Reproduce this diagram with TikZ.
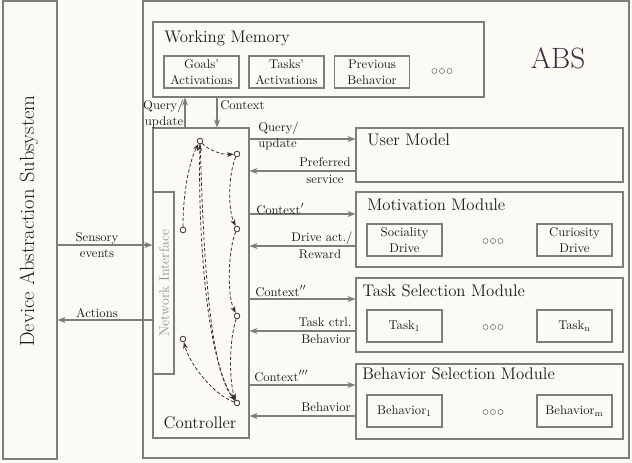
\documentclass[tikz,border=0pt]{standalone}
\usetikzlibrary{arrows.meta}
\definecolor{bgc}{RGB}{251,250,245}
\definecolor{boxc}{RGB}{125,125,125}
\definecolor{txtc}{RGB}{30,28,28}
\definecolor{absc}{RGB}{62,45,62}
\definecolor{dashc}{RGB}{58,50,50}
\definecolor{nic}{RGB}{150,150,150}
\newcommand\ffsm{\fontsize{9.5}{12}\selectfont}
\newcommand\ffbig{\fontsize{12.6}{14}\selectfont}
\newcommand\ffdas{\fontsize{15.4}{17}\selectfont}
\newcommand\ffabs{\fontsize{22}{24}\selectfont}
\newcommand\ffni{\fontsize{10.3}{12}\selectfont}
\begin{document}
\begin{tikzpicture}[x=0.75pt,y=-0.75pt,
  box/.style={draw=boxc, line width=0.8pt, inner sep=0pt, rectangle},
  sbox/.style={box, minimum width=56.25pt, minimum height=24pt, align=center, font=\ffsm, text=txtc},
  lbl/.style={inner sep=0pt, font=\ffsm, text=txtc},
  ttl/.style={inner sep=0pt, anchor=west, font=\ffbig, text=txtc},
  garrow/.style={draw=boxc, line width=0.8pt, -{Stealth[length=6pt,width=4.5pt,inset=1.8pt]}},
  darrow/.style={draw=dashc, line width=0.6pt, dash pattern=on 2.5pt off 1.6pt, -{Stealth[length=5pt,width=3.6pt,inset=1.5pt]}},
  circ/.style={circle, draw=dashc, fill=white, line width=0.6pt, inner sep=0pt, minimum size=4.2pt},
  dotc/.style={draw=boxc, line width=0.5pt}
]
\fill[bgc] (0,0) rectangle (632,463);
\useasboundingbox (0,0) rectangle (632,463);

% Device abstraction subsystem
\node[box, minimum width=40.5pt, minimum height=343.5pt] (das) at (30,230) {};
\node[rotate=90, font=\ffdas, text=txtc, inner sep=0pt] (dast) at (29,221) {Device Abstraction Subsystem};

% ABS
\node[box, minimum width=364.5pt, minimum height=342.75pt] (abs) at (386,229.5) {};
\node[font=\ffabs, text=absc, inner sep=0pt] (abst) at (558,58) {ABS};

% Working memory
\node[box, minimum width=248.25pt, minimum height=56.25pt] (wm) at (318.5,59.5) {};
\node[ttl] (wmt) at (164,38) {Working Memory};
\node[sbox] (goals) at (201.5,72) {Goals'\\Activations};
\node[sbox] (tasksa) at (286.5,72) {Tasks'\\Activations};
\node[sbox] (prev) at (372,72) {Previous\\Behavior};
\foreach \dx in {-7.5,0,7.5} \draw[dotc] (442+\dx,71) circle[radius=1.9pt];

% Controller
\node[box, minimum width=72pt, minimum height=232.5pt] (ctrl) at (201,283) {};
\node[box, minimum width=15.75pt, minimum height=136.5pt] (ni) at (163.5,283) {};
\node[rotate=90, font=\ffni, text=nic, inner sep=0pt] (nit) at (164,283) {Network Interface};
\node[font=\ffbig, text=txtc, inner sep=0pt] (ctrlt) at (200,423) {Controller};

% Modules
\node[box, minimum width=200.25pt, minimum height=40.5pt] (um) at (489.5,155) {};
\node[ttl] (umt) at (367,140) {User Model};

\node[box, minimum width=200.25pt, minimum height=56.25pt] (mm) at (489.5,229.5) {};
\node[ttl] (mmt) at (367,205) {Motivation Module};
\node[sbox] (soc) at (404.5,240) {Sociality\\Drive};
\node[sbox] (cur) at (574.5,240) {Curiosity\\Drive};
\foreach \dx in {-7.5,0,7.5} \draw[dotc] (493+\dx,241) circle[radius=1.9pt];

\node[box, minimum width=200.25pt, minimum height=55.5pt] (tsm) at (489.5,315) {};
\node[ttl] (tsmt) at (362,291) {Task Selection Module};
\node[sbox] (t1) at (404.5,326) {Task\textsubscript{1}};
\node[sbox] (tn) at (574.5,326) {Task\textsubscript{n}};
\foreach \dx in {-7.5,0,7.5} \draw[dotc] (493+\dx,327) circle[radius=1.9pt];

\node[box, minimum width=200.25pt, minimum height=56.25pt] (bsm) at (489.5,401.5) {};
\node[ttl] (bsmt) at (362,374) {Behavior Selection Module};
\node[sbox] (b1) at (404.5,411) {Behavior\textsubscript{1}};
\node[sbox] (bm) at (574.5,411) {Behavior\textsubscript{m}};
\foreach \dx in {-7.5,0,7.5} \draw[dotc] (493+\dx,412) circle[radius=1.9pt];

% connector levels
\coordinate (qx) at (185,0);
\coordinate (cx) at (217,0);
\coordinate (l1) at (0,139);
\coordinate (l2) at (0,171);
\coordinate (l3) at (0,214);
\coordinate (l4) at (0,246);
\coordinate (l5) at (0,299);
\coordinate (l6) at (0,331);
\coordinate (l7) at (0,385);
\coordinate (l8) at (0,416);
\coordinate (ls) at (0,245);
\coordinate (la) at (0,320);

\draw[garrow] (qx |- ctrl.north) -- (qx |- wm.south);
\draw[garrow] (cx |- wm.south) -- (cx |- ctrl.north);
\draw[garrow] (ctrl.east |- l1) -- (um.west |- l1);
\draw[garrow] (um.west |- l2) -- (ctrl.east |- l2);
\draw[garrow] (ctrl.east |- l3) -- (mm.west |- l3);
\draw[garrow] (mm.west |- l4) -- (ctrl.east |- l4);
\draw[garrow] (ctrl.east |- l5) -- (tsm.west |- l5);
\draw[garrow] (tsm.west |- l6) -- (ctrl.east |- l6);
\draw[garrow] (ctrl.east |- l7) -- (bsm.west |- l7);
\draw[garrow] (bsm.west |- l8) -- (ctrl.east |- l8);
\draw[garrow] (das.east |- ls) -- (ni.west |- ls);
\draw[garrow] (ni.west |- la) -- (das.east |- la);

% labels
\node[lbl] (lq1) at (163.5,106) {Query/};
\node[lbl] (lq2) at (164,122) {update};
\node[lbl, anchor=west] (lc0) at (220,105) {Context};
\node[lbl, anchor=west] (lq3) at (258,128) {Query/};
\node[lbl, anchor=west] (lq4) at (258,144) {update};
\node[lbl] (lp1) at (325,162) {Preferred};
\node[lbl] (lp2) at (325,179) {service};
\node[lbl, anchor=west] (lc1) at (256,209) {Context$'$};
\node[lbl] (ld1) at (322,238) {Drive act./};
\node[lbl] (ld2) at (320,254) {Reward};
\node[lbl, anchor=west] (lc2) at (255,291) {Context$''$};
\node[lbl] (lt1) at (325,322) {Task ctrl.};
\node[lbl] (lt2) at (326,339) {Behavior};
\node[lbl, anchor=west] (lc3) at (254,376) {Context$'''$};
\node[lbl] (lb1) at (326,407) {Behavior};
\node[lbl] (ls1) at (97,238) {Sensory};
\node[lbl] (ls2) at (97,254) {events};
\node[lbl] (la1) at (97,313) {Actions};

% controller internals
\node[circ] (c1) at (200,141) {};
\node[circ] (c2) at (237,154) {};
\node[circ] (c3) at (183,230) {};
\node[circ] (c4) at (237,229) {};
\node[circ] (c5) at (237,316) {};
\node[circ] (c6) at (183,339) {};
\node[circ] (c7) at (237,403) {};

\draw[darrow] (c3) .. controls (183,190) and (190,160) .. (c1);
\draw[darrow] (c7) .. controls (206,365) and (198,230) .. (c1);
\draw[darrow] (c1) .. controls (203,230) and (207,365) .. (c7);
\draw[darrow] (c1) .. controls (208,150) and (222,155) .. (c2);
\draw[darrow] (c2) .. controls (228,175) and (228,210) .. (c4);
\draw[darrow] (c4) .. controls (228,250) and (227,295) .. (c5);
\draw[darrow] (c5) .. controls (228,345) and (230,385) .. (c7);
\draw[darrow] (c7) .. controls (214,395) and (190,365) .. (c6);
\end{tikzpicture}
\end{document}
